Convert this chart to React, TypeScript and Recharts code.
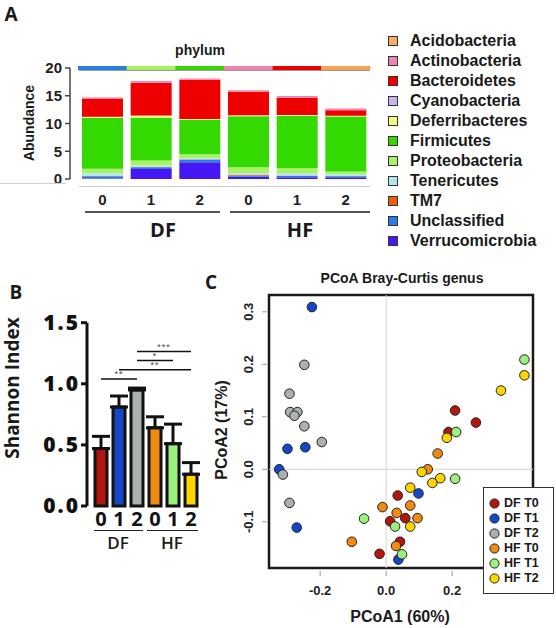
import React from "react";
import {
  BarChart,
  Bar,
  XAxis,
  YAxis,
  Cell,
  ErrorBar,
  ReferenceLine,
  ReferenceArea,
  ScatterChart,
  Scatter,
} from "recharts";

const samples = ["DF0", "DF1", "DF2", "HF0", "HF1", "HF2"];
const timepoints = ["0", "1", "2", "0", "1", "2"];

// panel A - phylum abundance per sample
const phyla = [
  "Acidobacteria",
  "Actinobacteria",
  "Bacteroidetes",
  "Cyanobacteria",
  "Deferribacteres",
  "Firmicutes",
  "Proteobacteria",
  "Tenericutes",
  "TM7",
  "Unclassified",
  "Verrucomicrobia",
];
const phylumColors = [
  "#F7AE5E",
  "#F183B3",
  "#EE0000",
  "#C9B3F2",
  "#F6F57F",
  "#33D900",
  "#A9F265",
  "#B3E7F0",
  "#F25F00",
  "#2A7DE6",
  "#4517F2",
];
const acidobacteria = [0.02, 0.02, 0.02, 0.02, 0.02, 0.02];
const actinobacteria = [0.3, 0.3, 0.2, 0.3, 0.3, 0.3];
const bacteroidetes = [3.2, 5.9, 7.1, 4.2, 3.1, 1.0];
const cyanobacteria = [0.05, 0.05, 0.05, 0.05, 0.05, 0.05];
const deferribacteres = [0.1, 0.35, 0.1, 0.15, 0.15, 0.1];
const firmicutes = [9.2, 7.7, 6.2, 9.2, 9.4, 9.9];
const proteobacteria = [0.8, 0.9, 0.7, 1.0, 0.9, 0.5];
const tenericutes = [0.5, 0.3, 0.2, 0.4, 0.4, 0.3];
const tm7 = [0.05, 0.05, 0.05, 0.1, 0.05, 0.05];
const unclassified = [0.4, 0.3, 0.5, 0.2, 0.3, 0.3];
const verrucomicrobia = [0.1, 1.8, 3.0, 0.4, 0.3, 0.2];
const phylumValues = [
  acidobacteria,
  actinobacteria,
  bacteroidetes,
  cyanobacteria,
  deferribacteres,
  firmicutes,
  proteobacteria,
  tenericutes,
  tm7,
  unclassified,
  verrucomicrobia,
];
const stripColors = ["#2A7DE6", "#A9F265", "#33D900", "#F183B3", "#EE0000", "#F7A24E"];

// panel B - Shannon index
const shannonMean = [0.47, 0.81, 0.95, 0.64, 0.51, 0.26];
const shannonErr = [0.1, 0.09, 0.015, 0.09, 0.16, 0.095];
const shannonColors = ["#B3150F", "#1446C8", "#A9B1B1", "#F08A10", "#9CF07E", "#FFD500"];
const sigFrom = ["DF0", "DF1", "DF2", "DF2"];
const sigTo = ["DF2", "HF2", "HF1", "HF2"];
const sigHeight = [1.04, 1.115, 1.19, 1.265];
const sigStars = ["**", "**", "*", "***"];

// panel C - PCoA points
const dfT0 = [
  { x: 0.209, y: 0.112 }, { x: 0.272, y: 0.089 }, { x: 0.189, y: 0.071 },
  { x: 0.035, y: -0.05 }, { x: 0.012, y: -0.099 }, { x: 0.058, y: -0.093 },
  { x: 0.042, y: -0.138 }, { x: -0.02, y: -0.161 },
];
const dfT1 = [
  { x: -0.225, y: 0.309 }, { x: -0.299, y: 0.039 }, { x: -0.245, y: 0.042 },
  { x: -0.324, y: 0.0 }, { x: -0.271, y: -0.111 }, { x: 0.098, y: -0.046 },
  { x: 0.037, y: -0.172 },
];
const dfT2 = [
  { x: -0.248, y: 0.199 }, { x: -0.293, y: 0.144 }, { x: -0.291, y: 0.109 },
  { x: -0.269, y: 0.109 }, { x: -0.278, y: 0.102 }, { x: -0.248, y: 0.082 },
  { x: -0.195, y: 0.052 }, { x: -0.313, y: -0.01 }, { x: -0.293, y: -0.064 },
];
const hfT0 = [
  { x: 0.156, y: 0.03 }, { x: 0.126, y: 0.0 }, { x: -0.011, y: -0.072 },
  { x: 0.073, y: -0.069 }, { x: 0.032, y: -0.083 }, { x: 0.095, y: -0.093 },
  { x: -0.104, y: -0.138 }, { x: 0.03, y: -0.146 },
];
const hfT1 = [
  { x: 0.419, y: 0.209 }, { x: 0.212, y: 0.071 }, { x: 0.209, y: -0.018 },
  { x: -0.067, y: -0.094 }, { x: 0.027, y: -0.109 }, { x: 0.048, y: -0.162 },
];
const hfT2 = [
  { x: 0.419, y: 0.179 }, { x: 0.348, y: 0.15 }, { x: 0.184, y: 0.06 },
  { x: 0.108, y: -0.005 }, { x: 0.164, y: -0.017 }, { x: 0.14, y: -0.026 },
  { x: 0.073, y: -0.035 }, { x: 0.073, y: -0.109 },
];
const groupNames = ["DF T0", "DF T1", "DF T2", "HF T0", "HF T1", "HF T2"];
const groupPoints = [dfT0, dfT1, dfT2, hfT0, hfT1, hfT2];
const groupColors = ["#B3150F", "#1446C8", "#A9B1B1", "#F08A10", "#9CF07E", "#FFD500"];

const SANS = "'Liberation Sans', Arial, sans-serif";
const OPEN = "'Open Sans', sans-serif";

const abundanceRows = samples.map((s, i) => {
  const row: Record<string, any> = { sample: s };
  phyla.forEach((p, j) => (row[p] = phylumValues[j][i]));
  return row;
});
const stripRows = samples.map((s) => ({ sample: s, v: 1 }));
const shannonRows = samples.map((s, i) => ({
  sample: s,
  mean: shannonMean[i],
  err: [0, shannonErr[i]],
}));

function Txt(props: {
  x: number;
  y: number;
  size: number;
  children: React.ReactNode;
  weight?: number | string;
  family?: string;
  rotate?: number;
  color?: string;
}) {
  const { x, y, size, children, weight = "bold", family = SANS, rotate = 0, color = "#1a1a1a" } = props;
  return (
    <div
      style={{
        position: "absolute",
        left: x,
        top: y,
        transform: `translate(-50%, -50%) rotate(${rotate}deg)`,
        fontSize: size,
        fontWeight: weight as any,
        fontFamily: family,
        color,
        whiteSpace: "nowrap",
        lineHeight: 1,
      }}
    >
      {children}
    </div>
  );
}

function HLine({ x1, x2, y, color = "#444", w = 1.5 }: { x1: number; x2: number; y: number; color?: string; w?: number }) {
  return <div style={{ position: "absolute", left: x1, top: y, width: x2 - x1, height: w, background: color }} />;
}

const abundTick = (p: any) => (
  <text x={p.x} y={p.y + 26} textAnchor="middle" fontSize={15} fontWeight="bold" fontFamily={SANS} fill="#222">
    {timepoints[p.index]}
  </text>
);

const shannonXTick = (p: any) => (
  <text x={p.x} y={p.y + 20} textAnchor="middle" fontSize={20} fontWeight="bold" fontFamily={OPEN} fill="#111">
    {timepoints[p.index]}
  </text>
);

const pcoaXTick = (p: any) => (
  <g>
    <line x1={p.x} x2={p.x} y1={p.y + 3} y2={p.y + 8} stroke="#999" />
    <text x={p.x} y={p.y + 27} textAnchor="middle" fontSize={13} fontWeight="bold" fontFamily={SANS} fill="#222">
      {Number(p.payload.value).toFixed(1)}
    </text>
  </g>
);

const pcoaYTick = (p: any) => (
  <g>
    <line x1={p.x - 7} x2={p.x - 2} y1={p.y} y2={p.y} stroke="#999" />
    <text
      x={p.x - 16}
      y={p.y}
      transform={`rotate(-90 ${p.x - 16} ${p.y})`}
      textAnchor="middle"
      fontSize={13}
      fontWeight="bold"
      fontFamily={SANS}
      fill="#222"
    >
      {Number(p.payload.value).toFixed(1)}
    </text>
  </g>
);

// stars sit just above a significance line
const starLabel = (stars: string) => (p: any) => {
  const vb = p.viewBox || {};
  const cx = (vb.x ?? 0) + (vb.width ?? 0) / 2;
  return (
    <text x={cx} y={(vb.y ?? 0) - 1.5} textAnchor="middle" fontSize={9} fill="#444" fontFamily={SANS} letterSpacing={1}>
      {stars}
    </text>
  );
};

export default function App() {
  return (
    <div style={{ position: "absolute", left: 0, top: 0, width: 556, height: 628, background: "#fff", overflow: "hidden" }}>
      {/* ---------- A ---------- */}
      <Txt x={11} y={14} size={19} family={OPEN}>A</Txt>
      <Txt x={200} y={50} size={14}>phylum</Txt>
      <Txt x={29} y={123} size={14} rotate={-90}>Abundance</Txt>
      <div style={{ position: "absolute", left: 0, top: 0 }}>
        <BarChart width={372} height={250} data={abundanceRows} margin={{ top: 68, right: 2, left: 0, bottom: 41 }}>
          <XAxis
            dataKey="sample"
            height={30}
            axisLine={false}
            tickLine={false}
            tickSize={0}
            tickMargin={0}
            padding={{ left: 8, right: 0 }}
            tick={abundTick}
            interval={0}
          />
          <YAxis
            width={70}
            domain={[0, 20]}
            ticks={[0, 5, 10, 15, 20]}
            stroke="#444"
            strokeWidth={1.5}
            tickSize={5}
            tickMargin={3}
            tick={{ fontSize: 15, fontWeight: "bold", fontFamily: SANS, fill: "#222" }}
          />
          {phyla
            .slice()
            .reverse()
            .map((p) => (
              <Bar
                key={p}
                dataKey={p}
                stackId="a"
                barSize={41}
                fill={phylumColors[phyla.indexOf(p)]}
                isAnimationActive={false}
              />
            ))}
        </BarChart>
      </div>
      <div style={{ position: "absolute", left: 0, top: 66 }}>
        <BarChart width={372} height={4} data={stripRows} margin={{ top: 0, right: 2, left: 78, bottom: 0 }} barCategoryGap={0}>
          <XAxis dataKey="sample" hide />
          <YAxis hide domain={[0, 1]} />
          <Bar dataKey="v" isAnimationActive={false}>
            {stripRows.map((r, i) => (
              <Cell key={r.sample} fill={stripColors[i]} />
            ))}
          </Bar>
        </BarChart>
      </div>
      <HLine x1={79} x2={370} y={70} color="#999" w={1} />
      <HLine x1={0} x2={66} y={183} color="#d0d0d0" w={1} />
      <HLine x1={79} x2={370} y={186} color="#d0d0d0" w={1} />
      <HLine x1={85} x2={220} y={211} color="#555" w={1.5} />
      <HLine x1={230} x2={370} y={211} color="#555" w={1.5} />
      <Txt x={163} y={230} size={20} family={OPEN}>DF</Txt>
      <Txt x={300} y={230} size={20} family={OPEN}>HF</Txt>

      {/* legend A */}
      {phyla.map((p, i) => (
        <React.Fragment key={p}>
          <div
            style={{
              position: "absolute",
              left: 388,
              top: 36 + i * 19.95,
              width: 8,
              height: 8,
              background: phylumColors[i],
              border: "1px solid #333",
            }}
          />
          <div
            style={{
              position: "absolute",
              left: 410,
              top: 41 + i * 19.95,
              transform: "translateY(-50%)",
              fontSize: 16,
              fontWeight: "bold",
              fontFamily: SANS,
              color: "#1a1a1a",
              lineHeight: 1,
              whiteSpace: "nowrap",
            }}
          >
            {p}
          </div>
        </React.Fragment>
      ))}

      {/* ---------- B ---------- */}
      <Txt x={16} y={292} size={19} family={OPEN}>B</Txt>
      <Txt x={12} y={388} size={19} weight={700} family={OPEN} rotate={-90}>Shannon Index</Txt>
      <div style={{ position: "absolute", left: 0, top: 300 }}>
        <BarChart width={205} height={250} data={shannonRows} margin={{ top: 22.7, right: 5, left: 0, bottom: 14 }}>
          <XAxis
            dataKey="sample"
            height={30}
            axisLine={false}
            tickLine={false}
            tickSize={0}
            tickMargin={0}
            padding={{ left: 5, right: 0 }}
            tick={shannonXTick}
            interval={0}
          />
          <YAxis
            width={87}
            domain={[0, 1.5]}
            ticks={[0, 0.5, 1, 1.5]}
            tickFormatter={(v: number) => v.toFixed(1)}
            stroke="#111"
            strokeWidth={3}
            tickSize={6}
            tickMargin={1}
            tick={{ fontSize: 21, fontWeight: 800, fontFamily: OPEN, fill: "#111", letterSpacing: 2 }}
          />
          <Bar dataKey="mean" barSize={12} stroke="#111" strokeWidth={3} isAnimationActive={false}>
            {shannonRows.map((r, i) => (
              <Cell key={r.sample} fill={shannonColors[i]} />
            ))}
            <ErrorBar dataKey="err" direction="y" width={9} stroke="#111" strokeWidth={3} />
          </Bar>
          {sigFrom.map((f, i) => (
            <ReferenceLine
              key={i}
              segment={[
                { x: f, y: sigHeight[i] },
                { x: sigTo[i], y: sigHeight[i] },
              ]}
              stroke="#111"
              strokeWidth={1.5}
              ifOverflow="visible"
              label={starLabel(sigStars[i])}
            />
          ))}
        </BarChart>
      </div>
      <HLine x1={94} x2={143} y={530} color="#222" w={1.2} />
      <HLine x1={147} x2={198} y={530} color="#222" w={1.2} />
      <Txt x={118} y={542} size={17} weight={600} family={OPEN}>DF</Txt>
      <Txt x={172} y={542} size={17} weight={600} family={OPEN}>HF</Txt>

      {/* ---------- C ---------- */}
      <Txt x={211} y={282} size={19} family={OPEN}>C</Txt>
      <Txt x={402} y={278} size={14}>PCoA Bray-Curtis genus</Txt>
      <Txt x={222} y={430} size={16} rotate={-90}>PCoA2 (17%)</Txt>
      <Txt x={400} y={617} size={16}>PCoA1 (60%)</Txt>
      <div style={{ position: "absolute", left: 200, top: 270 }}>
        <ScatterChart width={356} height={358} margin={{ top: 25, right: 23, left: 0, bottom: 0 }}>
          <XAxis
            type="number"
            dataKey="x"
            domain={[-0.355, 0.445]}
            ticks={[-0.2, 0, 0.2]}
            allowDataOverflow
            axisLine={false}
            tickLine={false}
            tickSize={0}
            tickMargin={0}
            height={60}
            tick={pcoaXTick}
          />
          <YAxis
            type="number"
            dataKey="y"
            domain={[-0.188, 0.332]}
            ticks={[-0.1, 0, 0.1, 0.2, 0.3]}
            allowDataOverflow
            axisLine={false}
            tickLine={false}
            tickSize={0}
            tickMargin={0}
            width={69}
            tick={pcoaYTick}
          />
          <ReferenceLine x={0} stroke="#d6d6d6" strokeWidth={1} />
          <ReferenceLine y={0} stroke="#d6d6d6" strokeWidth={1} />
          <ReferenceArea
            x1={-0.355}
            x2={0.445}
            y1={-0.188}
            y2={0.332}
            fill="none"
            fillOpacity={0}
            stroke="#1a1a1a"
            strokeWidth={2.5}
            ifOverflow="visible"
          />
          {groupNames.map((g, i) => (
            <Scatter
              key={g}
              name={g}
              data={groupPoints[i]}
              fill={groupColors[i]}
              isAnimationActive={false}
              shape={(p: any) => (
                <circle cx={p.cx} cy={p.cy} r={4.8} fill={groupColors[i]} stroke="#222" strokeWidth={1} />
              )}
            />
          ))}
        </ScatterChart>
      </div>
      {/* legend C */}
      <div
        style={{
          position: "absolute",
          left: 483,
          top: 487,
          width: 69,
          height: 105,
          background: "#fff",
          border: "1px solid #333",
        }}
      >
        {groupNames.map((g, i) => (
          <div
            key={g}
            style={{
              position: "absolute",
              left: 5,
              top: 9 + i * 15,
              display: "flex",
              alignItems: "center",
              fontSize: 12.5,
              fontWeight: "bold",
              fontFamily: SANS,
              color: "#1a1a1a",
              lineHeight: 1,
              whiteSpace: "nowrap",
            }}
          >
            <svg width={11} height={11} style={{ marginRight: 4 }}>
              <circle cx={5.5} cy={5.5} r={4.6} fill={groupColors[i]} stroke="#222" strokeWidth={1} />
            </svg>
            {g}
          </div>
        ))}
      </div>
    </div>
  );
}
